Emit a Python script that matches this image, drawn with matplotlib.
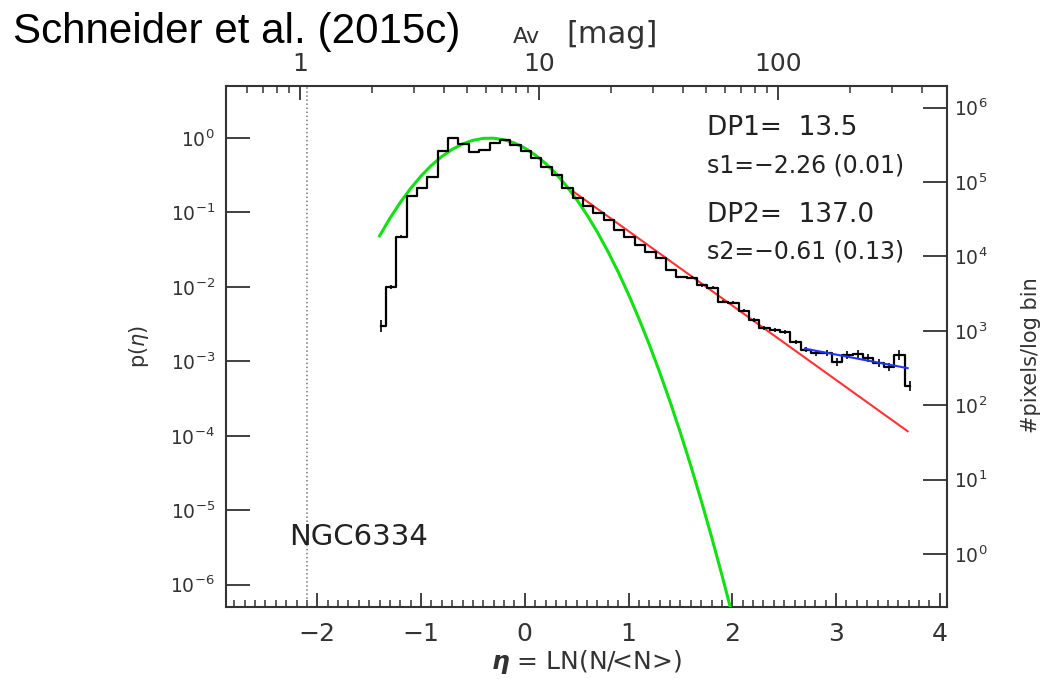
import numpy as np
import matplotlib
matplotlib.use("Agg")
import matplotlib.pyplot as plt
from matplotlib.ticker import FixedLocator, NullLocator

# PDF histogram (bin centres in eta, normalised p(eta))
eta_bins = np.linspace(-1.39, 3.71, 52)
p_hist = [0.0030, 0.0100, 0.047, 0.167, 0.21, 0.30, 0.67, 1.00, 0.83, 0.65,
          0.69, 0.86, 0.94, 0.805, 0.67, 0.54, 0.41, 0.32, 0.213, 0.157,
          0.122, 0.098, 0.079, 0.058, 0.047, 0.037, 0.0295, 0.0245, 0.0169, 0.0136,
          0.0132, 0.0106, 0.0097, 0.0063, 0.0061, 0.0048, 0.0036, 0.0028, 0.00265, 0.00249,
          0.00183, 0.00143, 0.00130, 0.00130, 0.00098, 0.00122, 0.00126, 0.00111, 0.00095, 0.00084,
          0.00122, 0.00047]
# error bar half size in dex
err_dex = [0.08, 0.03, 0.02, 0.01, 0.01, 0.01, 0.01, 0.01, 0.01, 0.01,
           0.01, 0.01, 0.01, 0.01, 0.01, 0.01, 0.01, 0.01, 0.01, 0.01,
           0.01, 0.01, 0.01, 0.01, 0.01, 0.01, 0.01, 0.015, 0.015, 0.015,
           0.02, 0.02, 0.02, 0.02, 0.02, 0.025, 0.025, 0.025, 0.03, 0.03,
           0.03, 0.035, 0.04, 0.04, 0.05, 0.05, 0.05, 0.05, 0.06, 0.06,
           0.07, 0.07]

eta_ln = [-1.4, -1.3, -1.2, -1.1, -1.0, -0.9, -0.8, -0.7, -0.6, -0.5,
          -0.4, -0.3, -0.2, -0.1, 0.0, 0.1, 0.2, 0.3, 0.4, 0.5,
          0.6, 0.7, 0.8, 0.9, 1.0, 1.1, 1.2, 1.3, 1.4, 1.5,
          1.6, 1.7, 1.8, 1.9, 2.0]
logp_ln = [-1.315, -1.078, -0.865, -0.676, -0.510, -0.367, -0.248, -0.152, -0.079, -0.030,
           -0.004, -0.002, -0.023, -0.067, -0.135, -0.227, -0.341, -0.479, -0.641, -0.826,
           -1.034, -1.265, -1.521, -1.799, -2.101, -2.426, -2.775, -3.147, -3.542, -3.961,
           -4.403, -4.869, -5.358, -5.871, -6.406]

# power-law fits
eta_pl1 = [0.47, 3.69]
p_pl1 = [0.19, 1.15e-4]
eta_pl2 = [2.70, 3.69]
p_pl2 = [1.48e-3, 8.1e-4]

eta_thresh = -2.10      # Av = 1 mag
av_scale = 8.7          # <N> in Av units
av_major = [1, 10, 100]
av_minor = [0.6, 0.7, 0.8, 0.9, 2, 3, 4, 5, 6, 7, 8, 9,
            20, 30, 40, 50, 60, 70, 80, 90, 200, 300, 400]
right_offset = 10 ** 5.59

gray = "#333333"
plt.rcParams["font.family"] = "DejaVu Sans"

fig = plt.figure(figsize=(10.43, 6.79), dpi=100)
ax = fig.add_axes([0.2167, 0.106, 0.6913, 0.7673])

ax.step(eta_bins, p_hist, where="mid", color="black", lw=1.6, zorder=4)
p = np.array(p_hist)
e = np.array(err_dex)
ax.errorbar(eta_bins, p, yerr=[p - p / 10 ** e, p * 10 ** e - p], fmt="none",
            ecolor="black", elinewidth=1.2, capsize=0, zorder=4)
ax.plot(eta_ln, 10 ** np.array(logp_ln), color="#11e011", lw=2.2, zorder=3)
ax.plot(eta_pl1, p_pl1, color="#ff3333", lw=1.5, zorder=3)
ax.plot(eta_pl2, p_pl2, color="#2233ff", lw=1.5, zorder=5)
ax.axvline(eta_thresh, color="#777777", ls=":", lw=1.1)

ax.set_yscale("log")
ax.set_xlim(-2.88, 4.07)
ax.set_ylim(5.0e-7, 5.0)
ax.yaxis.set_major_locator(FixedLocator([10.0 ** k for k in range(-6, 1)]))
ax.yaxis.set_minor_locator(NullLocator())
ax.xaxis.set_major_locator(FixedLocator([-2, -1, 0, 1, 2, 3, 4]))
ax.xaxis.set_minor_locator(FixedLocator(np.arange(-2.8, 4.05, 0.1)))
ax.xaxis.set_major_formatter(matplotlib.ticker.FuncFormatter(
    lambda v, pos: f"{int(v)}".replace("-", "\u2212")))

ax.tick_params(axis="x", which="major", direction="in", length=10, width=1.3,
               color=gray, labelsize=18, labelcolor=gray, pad=11, top=False)
ax.tick_params(axis="x", which="minor", direction="in", length=5, width=1.1,
               color=gray, top=False)
ax.tick_params(axis="y", which="major", direction="in", length=17, width=1.3,
               color=gray, labelsize=13.5, labelcolor=gray, pad=8, right=False)
for s in ax.spines.values():
    s.set_color(gray)
    s.set_linewidth(1.5)

ax.set_ylabel(r"p($\eta$)", fontsize=15, color=gray, labelpad=14)
ax.set_xlabel(r"$\boldsymbol{\eta}$ = LN(N/<N>)", fontsize=18, color=gray, labelpad=1)

# right axis: pixel counts
axr = ax.twinx()
axr.set_yscale("log")
axr.set_ylim(5.0e-7 * right_offset, 5.0 * right_offset)
axr.yaxis.set_major_locator(FixedLocator([10.0 ** k for k in range(0, 7)]))
axr.yaxis.set_minor_locator(NullLocator())
axr.tick_params(axis="y", which="major", direction="in", length=17, width=1.3,
                color=gray, labelsize=13.5, labelcolor=gray, pad=5)
for s in axr.spines.values():
    s.set_visible(False)

# top axis: Av
axt = ax.twiny()
axt.set_xlim(ax.get_xlim())
axt.xaxis.set_major_locator(FixedLocator(np.log(np.array(av_major) / av_scale)))
axt.xaxis.set_minor_locator(FixedLocator(np.log(np.array(av_minor) / av_scale)))
axt.set_xticklabels([str(a) for a in av_major])
axt.tick_params(axis="x", which="major", direction="in", length=10, width=1.3,
                color=gray, labelsize=18, labelcolor=gray, pad=7)
axt.tick_params(axis="x", which="minor", direction="in", length=5, width=1.1, color=gray)
for s in axt.spines.values():
    s.set_visible(False)

ax.text(0.667, 0.919, "DP1=  13.5", transform=ax.transAxes, fontsize=19, color="#222222", va="center")
ax.text(0.667, 0.848, "s1=\u22122.26 (0.01)", transform=ax.transAxes, fontsize=17, color="#222222", va="center")
ax.text(0.667, 0.752, "DP2=  137.0", transform=ax.transAxes, fontsize=19, color="#222222", va="center")
ax.text(0.667, 0.683, "s2=\u22120.61 (0.13)", transform=ax.transAxes, fontsize=17, color="#222222", va="center")
ax.text(0.088, 0.135, "NGC6334", transform=ax.transAxes, fontsize=21, color="#222222", va="center")

fig.text(513 / 1043, 1 - 43 / 679, "Av", fontsize=16, color=gray, va="baseline")
fig.text(566 / 1043, 1 - 43 / 679, "[mag]", fontsize=22, color=gray, va="baseline")
fig.text(1031 / 1043, 1 - 355 / 679, "#pixels/log bin", fontsize=15, color=gray,
         rotation=90, ha="center", va="center")
fig.text(13 / 1043, 1 - 43 / 679, "Schneider et al. (2015c)", fontsize=30.3,
         family="Liberation Sans", color="black", va="baseline")

fig.savefig("out.png", dpi=100)
